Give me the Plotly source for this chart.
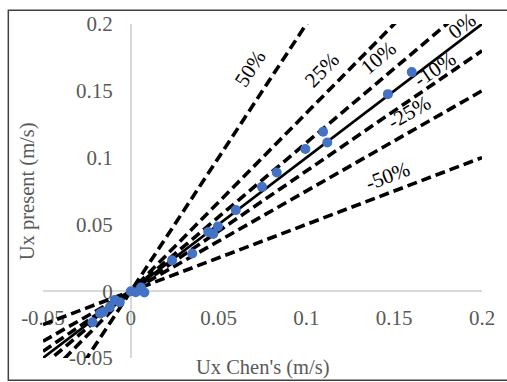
import plotly.graph_objects as go

# ---- data ----
ux_chen = [0.160, 0.1464, 0.1095, 0.1119, 0.0994, 0.0831, 0.0747, 0.0598, 0.0496,
           0.0441, 0.0469, 0.0350, 0.0235, 0.0000, 0.0028, 0.0058, 0.0077,
           -0.0063, -0.0091, -0.0119, -0.0156, -0.0175, -0.0218]
ux_present = [0.164, 0.1475, 0.1194, 0.1113, 0.1065, 0.0889, 0.0781, 0.0607, 0.0485,
              0.0444, 0.0429, 0.0282, 0.0231, 0.0000, -0.0007, 0.0028, -0.0009,
              -0.0082, -0.0065, -0.0119, -0.0155, -0.0167, -0.0233]

# error bands: label, slope of the reference line
band_labels = ["50%", "25%", "10%", "0%", "-10%", "-25%", "-50%"]
band_slopes = [2.0, 1.0 / 0.75, 1.0 / 0.9, 1.0, 0.9, 0.75, 0.5]
# label anchor positions (data coords) and text angles
label_x = [0.0682, 0.1089, 0.1408, 0.1885, 0.1732, 0.1587, 0.1464]
label_y = [0.1668, 0.1653, 0.1749, 0.1985, 0.1661, 0.1345, 0.0861]
label_angle = [-57, -46, -40, -37, -34, -30, -21]

line_x = [-0.05, 0.2]
tick_vals = [-0.05, 0, 0.05, 0.1, 0.15, 0.2]
tick_text = ["-0.05", "0", "0.05", "0.1", "0.15", "0.2"]

FONT = "Liberation Serif, Times New Roman, serif"
GRAY = "#595959"

fig = go.Figure()

for lab, k in zip(band_labels, band_slopes):
    solid = lab == "0%"
    fig.add_trace(go.Scatter(
        x=line_x, y=[k * v for v in line_x], mode="lines",
        line=dict(color="black", width=2.6 if solid else 3.6,
                  dash="solid" if solid else "10px,5px"),
        hoverinfo="skip", showlegend=False))

fig.add_trace(go.Scatter(
    x=ux_chen, y=ux_present, mode="markers",
    marker=dict(color="#4472C4", size=10, line=dict(width=0)),
    showlegend=False))

for lab, lx, ly, ang in zip(band_labels, label_x, label_y, label_angle):
    fig.add_annotation(x=lx, y=ly, text=lab, showarrow=False, textangle=ang,
                       font=dict(family=FONT, size=21, color="black"),
                       xanchor="center", yanchor="middle")

fig.add_annotation(x=0.5, y=-0.029, xref="paper", yref="paper",
                   text="Ux Chen's (m/s)", showarrow=False,
                   font=dict(family=FONT, size=20.5, color=GRAY),
                   xanchor="center", yanchor="middle")
fig.add_annotation(x=-0.036, y=0.5, xref="paper", yref="paper",
                   text="Ux present (m/s)", showarrow=False, textangle=-90,
                   font=dict(family=FONT, size=20.5, color=GRAY),
                   xanchor="center", yanchor="middle")

# outer frame
fig.add_shape(type="rect", xref="paper", yref="paper",
              x0=-0.079, x1=1.06, y0=-0.0665, y1=1.041,
              line=dict(color="#404040", width=1.5), layer="below")

fig.update_layout(
    width=507, height=382,
    margin=dict(l=43, r=20, t=17, b=24),
    paper_bgcolor="white", plot_bgcolor="white",
    showlegend=False,
    xaxis=dict(range=[-0.05, 0.2], anchor="free", position=0.2,
               showgrid=False, zeroline=False, showline=True,
               linecolor="#d9d9d9", linewidth=1.5, layer="below traces",
               tickmode="array", tickvals=tick_vals, ticktext=tick_text,
               ticks="", ticklabelstandoff=8,
               tickfont=dict(family=FONT, size=21, color=GRAY)),
    yaxis=dict(range=[-0.05, 0.2], anchor="free", position=0.2,
               showgrid=False, zeroline=False, showline=True,
               linecolor="#d9d9d9", linewidth=1.5, layer="below traces",
               tickmode="array", tickvals=tick_vals, ticktext=tick_text,
               ticks="", ticklabelstandoff=13,
               tickfont=dict(family=FONT, size=21, color=GRAY)),
)

fig.write_html("out.html")
